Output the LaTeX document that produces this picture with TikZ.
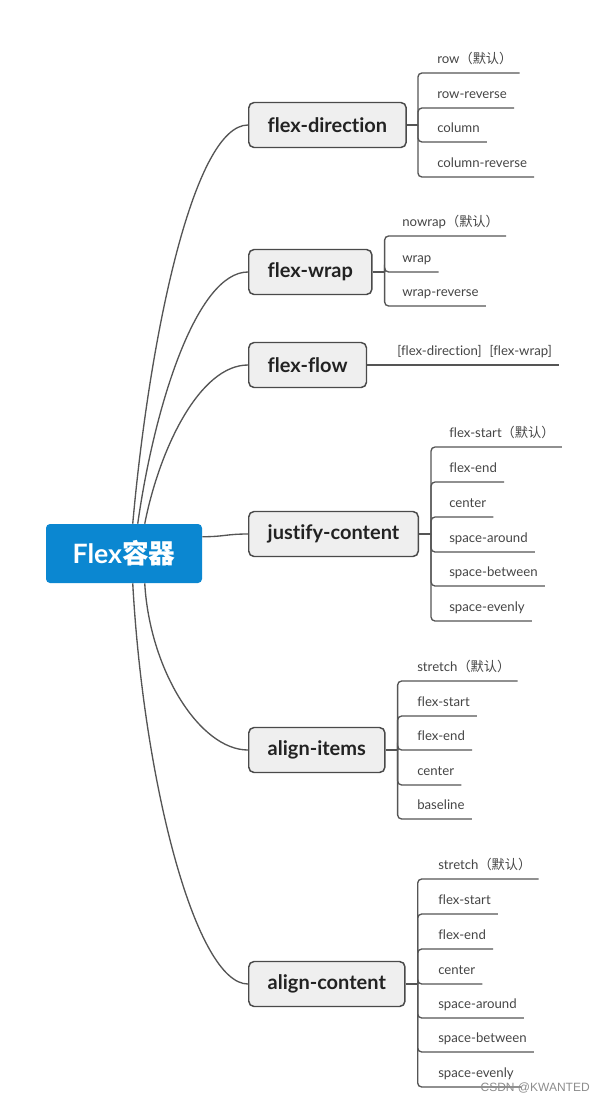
\documentclass[tikz,border=0pt]{standalone}
\usepackage{fontspec}
\setmainfont{Lato}[Ligatures=NoCommon]
\newfontfamily\cjk{Noto Sans CJK SC}
\newfontfamily\wmfont{Liberation Sans}
\usetikzlibrary{calc}
\definecolor{rootblue}{HTML}{0B87D1}
\definecolor{boxfill}{HTML}{EFEFEF}
\definecolor{boxline}{HTML}{4A4A4A}
\definecolor{linec}{HTML}{555555}
\definecolor{leaftext}{HTML}{454545}
\definecolor{boxtext}{HTML}{222222}
\newcommand\dft{{\cjk （默认）}}
\begin{document}
\begin{tikzpicture}[x=0.75pt,y=-0.75pt,
  conn/.style={draw=linec, line width=1pt},
  elbow/.style={conn, rounded corners=3pt},
  branch/.style={draw=boxline, fill=boxfill, line width=1.1pt, rounded corners=4pt,
    anchor=west, minimum height=33.75pt, inner xsep=14.25pt,
    font=\bfseries\fontsize{15}{18}\selectfont, text=boxtext},
  leaf/.style={anchor=south west, inner xsep=5.25pt, inner ysep=0pt, text depth=6.6pt,
    font=\fontsize{9.9}{12}\selectfont, text=leaftext},
  rootbox/.style={fill=rootblue, rounded corners=3pt, minimum width=117pt, minimum height=44.25pt,
    text=white, font=\bfseries\fontsize{20}{24}\selectfont}
]
\useasboundingbox (0,0) rectangle (605,1103);

% root
\node[rootbox] (root) at (124,553.5) {Flex{\cjk 容器}};

% branches
\node[branch] (fd) at (248,125) {flex-direction};
\node[branch] (fw) at (248,272) {flex-wrap};
\node[branch] (ff) at (248,365) {flex-flow};
\node[branch] (jc) at (248,534) {justify-content};
\node[branch] (ai) at (248,750) {align-items};
\node[branch] (ac) at (248,984) {align-content};

% root connectors
\draw[conn] ($(root.north west)+(87,0)$) .. controls +(17,-190) and +(-54,0) .. (fd.west);
\draw[conn] ($(root.north west)+(92,0)$) .. controls +(17,-120) and +(-51,0) .. (fw.west);
\draw[conn] ($(root.north west)+(99,0)$) .. controls +(15,-76) and +(-48,0) .. (ff.west);
\draw[conn] ($(root.north east)+(0,13)$) .. controls +(22,0) and +(-22,0) .. (jc.west);
\draw[conn] ($(root.south west)+(99,0)$) .. controls +(5,87) and +(-48,0) .. (ai.west);
\draw[conn] ($(root.south west)+(87,0)$) .. controls +(11,200) and +(-52,0) .. (ac.west);

% flex-direction
\coordinate (fdj) at ($(fd.east)+(11,0)$);
\draw[conn] (fd.east) -- (fdj);
\foreach \y/\t [count=\i] in {73/row\dft, 108/row-reverse, 142/column, 177/column-reverse} {
  \node[leaf] (fd\i) at (430,\y) {\t};
  \draw[elbow] (fdj) |- (fd\i.south east);
}

% flex-wrap
\coordinate (fwj) at ($(fw.east)+(12,0)$);
\draw[conn] (fw.east) -- (fwj);
\foreach \y/\t [count=\i] in {236/nowrap\dft, 272/wrap, 306/wrap-reverse} {
  \node[leaf] (fw\i) at (395,\y) {\t};
  \draw[elbow] (fwj) |- (fw\i.south east);
}

% flex-flow
\node[leaf] (ff1) at (390,365) {[flex-direction]\hspace{0.6em}[flex-wrap]};
\draw[conn] (ff.east) -- (ff1.south east);

% justify-content
\coordinate (jcj) at ($(jc.east)+(12,0)$);
\draw[conn] (jc.east) -- (jcj);
\foreach \y/\t [count=\i] in {447/flex-start\dft, 482/flex-end, 517/center, 552/space-around, 586/space-between, 621/space-evenly} {
  \node[leaf] (jc\i) at (442,\y) {\t};
  \draw[elbow] (jcj) |- (jc\i.south east);
}

% align-items
\coordinate (aij) at ($(ai.east)+(12,0)$);
\draw[conn] (ai.east) -- (aij);
\foreach \y/\t [count=\i] in {681/stretch\dft, 716/flex-start, 750/flex-end, 785/center, 819/baseline} {
  \node[leaf] (ai\i) at (410,\y) {\t};
  \draw[elbow] (aij) |- (ai\i.south east);
}

% align-content
\coordinate (acj) at ($(ac.east)+(12,0)$);
\draw[conn] (ac.east) -- (acj);
\foreach \y/\t [count=\i] in {879/stretch\dft, 914/flex-start, 949/flex-end, 984/center, 1018/space-around, 1052/space-between, 1087/space-evenly} {
  \node[leaf] (ac\i) at (431,\y) {\t};
  \draw[elbow] (acj) |- (ac\i.south east);
}

% watermark
\node[anchor=east, inner sep=0pt, font=\wmfont\fontsize{9}{10}\selectfont, text=black!45] (wm) at (590,1088) {CSDN @KWANTED};
\end{tikzpicture}
\end{document}
